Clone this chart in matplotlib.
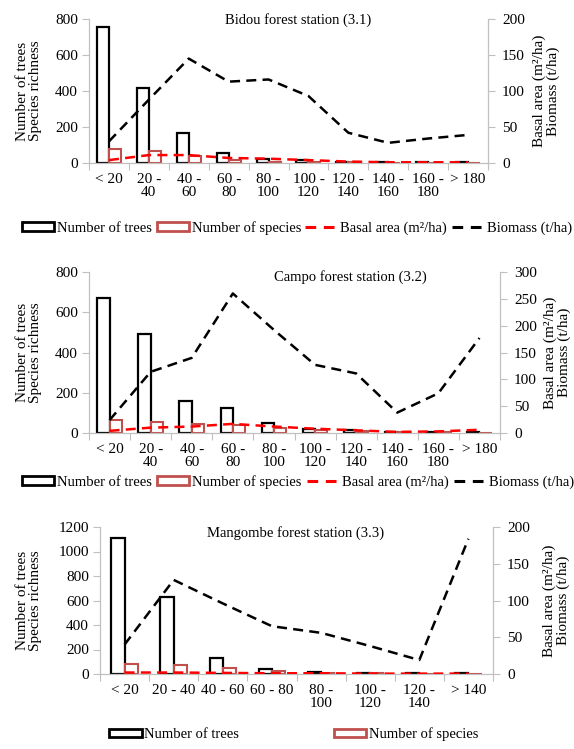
import matplotlib
matplotlib.use('Agg')
import matplotlib.pyplot as plt
import numpy as np
from matplotlib.patches import Patch
from matplotlib.lines import Line2D

plt.rcParams['font.family'] = ['Liberation Serif', 'DejaVu Serif']
plt.rcParams['font.size'] = 11

# Bidou forest station (3.1)
cats1 = ['< 20', '20 -\n40', '40 -\n60', '60 -\n80', '80 -\n100', '100 -\n120',
         '120 -\n140', '140 -\n160', '160 -\n180', '> 180']
trees1 = [758, 418, 165, 58, 25, 15, 5, 3, 3, 3]
species1 = [76, 67, 40, 18, 8, 7, 3, 2, 2, 2]
basal1 = [4, 11, 11, 7, 6, 4, 2, 1, 1, 1]
biomass1 = [30, 88, 145, 113, 116, 93, 42, 28, 34, 39]

# Campo forest station (3.2)
cats2 = cats1
trees2 = [670, 490, 160, 122, 48, 20, 14, 5, 5, 5]
species2 = [64, 57, 46, 40, 24, 14, 8, 3, 3, 2]
basal2 = [4, 10, 12, 17, 12, 8, 5, 2, 3, 6]
biomass2 = [24, 114, 140, 260, 192, 127, 111, 38, 74, 177]

# Mangombe forest station (3.3)
cats3 = ['< 20', '20 - 40', '40 - 60', '60 - 80', '80 -\n100', '100 -\n120',
         '120 -\n140', '> 140']
trees3 = [1108, 625, 128, 40, 15, 10, 5, 5]
species3 = [78, 75, 45, 22, 8, 5, 3, 2]
basal3 = [2, 2, 1.5, 1, 1, 0.5, 0.5, 0.5]
biomass3 = [40, 128, 96, 65, 56, 38, 19, 184]

W, H = 574, 749
GRAY = '#C0C0C0'
SPEC = '#C0504D'
fig = plt.figure(figsize=(W / 100, H / 100), dpi=100)


def px_axes(l, r, t, b):
    return fig.add_axes([l / W, 1 - b / H, (r - l) / W, (b - t) / H])


def panel(box, cats, trees, species, basal, biomass, ymax, ystep, rmax, rstep,
          title, title_xy, bw, right_lbl_x):
    ax = px_axes(*box)
    n = len(cats)
    x = np.arange(n)
    ax.bar(x - bw / 2, trees, bw, facecolor='white', edgecolor='black', lw=1.6)
    ax.bar(x + bw / 2, species, bw, facecolor='white', edgecolor=SPEC, lw=1.5)
    ax.set_xlim(-0.5, n - 0.5)
    ax.set_ylim(0, ymax)
    ax.set_yticks(np.arange(0, ymax + 1, ystep))
    ax.set_xticks(x, cats, linespacing=1.05)
    ax.set_xticks(np.arange(n + 1) - 0.5, minor=True)
    ax.tick_params(axis='x', which='major', length=0, pad=7)
    ax.tick_params(axis='x', which='minor', length=5, color=GRAY, width=0.8)
    ax.tick_params(axis='y', length=5, color=GRAY, width=0.8, pad=3)
    for s in ['top', 'right']:
        ax.spines[s].set_visible(False)
    for s in ['left', 'bottom']:
        ax.spines[s].set_color(GRAY)
        ax.spines[s].set_linewidth(0.9)

    ax2 = ax.twinx()
    ax2.plot(x, basal, color='#FF0000', lw=1.8, dashes=(4, 2.5))
    ax2.plot(x, biomass, color='black', lw=1.8, dashes=(4, 2.5))
    ax2.set_ylim(0, rmax)
    ax2.set_yticks(np.arange(0, rmax + 1, rstep))
    ax2.tick_params(axis='y', length=5, color=GRAY, width=0.8, pad=5)
    for s in ['top', 'left', 'bottom']:
        ax2.spines[s].set_visible(False)
    ax2.spines['right'].set_color(GRAY)
    ax2.spines['right'].set_linewidth(0.9)

    l, r, t, b = box
    cy = 1 - (t + b) / 2 / H
    fig.text(29 / W, cy, 'Number of trees\nSpecies richness', rotation=90,
             ha='center', va='center', multialignment='center', linespacing=1.05)
    fig.text(right_lbl_x / W, cy, 'Basal area (m²/ha)\nBiomass (t/ha)', rotation=90,
             ha='center', va='center', multialignment='center', linespacing=1.05)
    fig.text(title_xy[0] / W, 1 - title_xy[1] / H, title, ha='center', va='center',
             fontsize=10.5)
    return ax


panel((89, 488, 19, 163), cats1, trees1, species1, basal1, biomass1,
      800, 200, 200, 50, 'Bidou forest station (3.1)', (298, 20), 0.3, 546)
panel((89, 500, 272, 433), cats2, trees2, species2, basal2, biomass2,
      800, 200, 300, 50, 'Campo forest station (3.2)', (350, 277), 0.3, 557)
panel((100, 493, 527, 674), cats3, trees3, species3, basal3, biomass3,
      1200, 200, 200, 50, 'Mangombe forest station (3.3)', (296, 533), 0.27, 556)

h_trees = Patch(facecolor='white', edgecolor='black', lw=2)
h_spec = Patch(facecolor='white', edgecolor=SPEC, lw=2)
h_basal = Line2D([], [], color='#FF0000', lw=2.2, dashes=(3.5, 2.5))
h_bio = Line2D([], [], color='black', lw=2.2, dashes=(3.5, 2.5))
labels4 = ['Number of trees', 'Number of species', 'Basal area (m²/ha)', 'Biomass (t/ha)']
kw = dict(loc='center', frameon=False, handlelength=2.2, handleheight=0.5,
          handletextpad=0.2, borderpad=0, borderaxespad=0, fontsize=10.5)

fig.legend([h_trees, h_spec, h_basal, h_bio], labels4, ncol=4, columnspacing=0.3,
           bbox_to_anchor=(297 / W, 1 - 228 / H), **kw)
fig.legend([h_trees, h_spec, h_basal, h_bio], labels4, ncol=4, columnspacing=0.35,
           bbox_to_anchor=(298 / W, 1 - 482 / H), **kw)
fig.legend([h_trees, h_spec], labels4[:2], ncol=2, columnspacing=6.5,
           bbox_to_anchor=(294 / W, 1 - 734 / H), **kw)

fig.savefig('out.png', dpi=100)
